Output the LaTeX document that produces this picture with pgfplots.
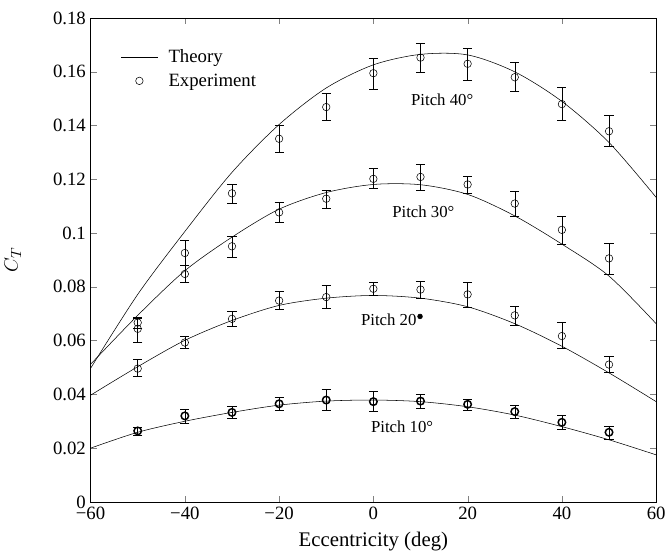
\documentclass[border=0pt]{standalone}
\usepackage{pgfplots}
\pgfplotsset{compat=1.18}
\usepackage{fontspec}
\setmainfont{Liberation Serif}

\begin{document}
\begin{tikzpicture}
  \begin{axis}[
    scale only axis,
    width = 422pt,
    height = 361pt,
    xmin = -60, xmax = 60,
    ymin = 0, ymax = 0.18,
    xtick = {-60,-40,...,60},
    xticklabels = {−60,−40,−20,0,20,40,60},
    ytick = {0,0.02,...,0.18},
    yticklabels = {0,0.02,0.04,0.06,0.08,0.1,0.12,0.14,0.16,0.18},
    tick align = inside,
    major tick length = 4.5pt,
    tick label style = {font=\fontsize{14}{16}\selectfont},
    /pgf/number format/assume math mode=true,
    xlabel = {Eccentricity (deg)},
    ylabel = {$C_T$},
    label style = {font=\fontsize{15.5}{18}\selectfont},
    xlabel style = {yshift=-2.5pt},
    ylabel style = {yshift=17pt},
    legend style = {at={(axis cs:-53.6,0.1695)}, anchor=north west, draw=none, fill=none,
      inner sep=0pt, font=\fontsize{14}{16}\selectfont, row sep=3pt, column sep=6pt},
    legend cell align = left,
    every axis plot/.append style = {black},
  ]
    % theory
    \addplot [thin, smooth,
      legend image code/.code={\draw[thin] (0cm,0cm) -- (0.95cm,0cm);}] coordinates {
      (-60,0.0497) (-50,0.0772) (-40,0.1006) (-30,0.1226) (-20,0.1404) (-10,0.1540)
      (0,0.1626) (10,0.1665) (20,0.1663) (30,0.1600) (40,0.1490) (50,0.1337) (60,0.1133)};
    \addlegendentry{Theory}
    \addplot [only marks, mark=o, mark size=2.8pt, thin,
      legend image code/.code={\draw[thin] plot coordinates {(0.475cm,0cm)};},
      error bars/.cd, y dir=both, y explicit,
      error mark options={rotate=90, mark size=3.4pt, thin}] coordinates {
      (-50,0.0667) += (0,0.0021) -= (0,0.0022)
      (-40,0.0926) += (0,0.0046) -= (0,0.0047)
      (-30,0.1148) += (0,0.0033) -= (0,0.0037)
      (-20,0.1351) += (0,0.0049) -= (0,0.0050)
      (-10,0.1469) += (0,0.0051) -= (0,0.0049)
      (0,0.1595) += (0,0.0055) -= (0,0.0058)
      (10,0.1653) += (0,0.0053) -= (0,0.0056)
      (20,0.1630) += (0,0.0058) -= (0,0.0060)
      (30,0.1580) += (0,0.0054) -= (0,0.0054)
      (40,0.1480) += (0,0.0063) -= (0,0.0061)
      (50,0.1379) += (0,0.0058) -= (0,0.0056)};
    \addlegendentry{Experiment}

    \addplot [thin, smooth, forget plot] coordinates {
      (-60,0.0512) (-50,0.0694) (-40,0.0860) (-30,0.0985) (-20,0.1089) (-10,0.1151)
      (0,0.1181) (10,0.1180) (20,0.1144) (30,0.1064) (40,0.0959) (50,0.0840) (60,0.0663)};
    \addplot [only marks, mark=o, mark size=2.8pt, thin, forget plot,
      error bars/.cd, y dir=both, y explicit,
      error mark options={rotate=90, mark size=3.4pt, thin}] coordinates {
      (-50,0.0644) += (0,0.0040) -= (0,0.0049)
      (-40,0.0848) += (0,0.0031) -= (0,0.0031)
      (-30,0.0951) += (0,0.0037) -= (0,0.0039)
      (-20,0.1077) += (0,0.0037) -= (0,0.0037)
      (-10,0.1128) += (0,0.0032) -= (0,0.0035)
      (0,0.1202) += (0,0.0041) -= (0,0.0036)
      (10,0.1209) += (0,0.0047) -= (0,0.0050)
      (20,0.1181) += (0,0.0031) -= (0,0.0034)
      (30,0.1110) += (0,0.0044) -= (0,0.0048)
      (40,0.1012) += (0,0.0052) -= (0,0.0053)
      (50,0.0906) += (0,0.0056) -= (0,0.0060)};

    \addplot [thin, smooth, forget plot] coordinates {
      (-60,0.0397) (-50,0.0503) (-40,0.0601) (-30,0.0675) (-20,0.0731) (-10,0.0758)
      (0,0.0768) (10,0.0758) (20,0.0726) (30,0.0663) (40,0.0579) (50,0.0480) (60,0.0373)};
    \addplot [only marks, mark=o, mark size=2.8pt, thin, forget plot,
      error bars/.cd, y dir=both, y explicit,
      error mark options={rotate=90, mark size=3.4pt, thin}] coordinates {
      (-50,0.0496) += (0,0.0034) -= (0,0.0030)
      (-40,0.0593) += (0,0.0024) -= (0,0.0023)
      (-30,0.0681) += (0,0.0030) -= (0,0.0028)
      (-20,0.0749) += (0,0.0034) -= (0,0.0033)
      (-10,0.0762) += (0,0.0043) -= (0,0.0041)
      (0,0.0793) += (0,0.0024) -= (0,0.0025)
      (10,0.0790) += (0,0.0031) -= (0,0.0032)
      (20,0.0772) += (0,0.0045) -= (0,0.0049)
      (30,0.0694) += (0,0.0033) -= (0,0.0035)
      (40,0.0617) += (0,0.0052) -= (0,0.0047)
      (50,0.0511) += (0,0.0031) -= (0,0.0030)};

    \addplot [thin, smooth, forget plot] coordinates {
      (-60,0.0200) (-50,0.0259) (-40,0.0300) (-30,0.0333) (-20,0.0360) (-10,0.0375)
      (0,0.0379) (10,0.0373) (20,0.0354) (30,0.0323) (40,0.0280) (50,0.0231) (60,0.0175)};
    \addplot [only marks, mark=o, mark size=2.8pt, line width=1.1pt, forget plot,
      error bars/.cd, y dir=both, y explicit,
      error mark options={rotate=90, mark size=3.4pt, thin},
      error bar style={thin}] coordinates {
      (-50,0.0264) += (0,0.0013) -= (0,0.0015)
      (-40,0.0320) += (0,0.0026) -= (0,0.0027)
      (-30,0.0333) += (0,0.0021) -= (0,0.0022)
      (-20,0.0365) += (0,0.0024) -= (0,0.0025)
      (-10,0.0379) += (0,0.0041) -= (0,0.0039)
      (0,0.0373) += (0,0.0037) -= (0,0.0037)
      (10,0.0375) += (0,0.0026) -= (0,0.0027)
      (20,0.0363) += (0,0.0020) -= (0,0.0023)
      (30,0.0336) += (0,0.0022) -= (0,0.0025)
      (40,0.0296) += (0,0.0025) -= (0,0.0026)
      (50,0.0259) += (0,0.0024) -= (0,0.0025)};

    % stray filled dot of the Pitch 20 label
    \addplot [only marks, mark=*, mark size=1.8pt, forget plot] coordinates {(9.9,0.0690)};

    \node [font=\fontsize{12.5}{15}\selectfont] at (axis cs:14.6,0.1496) {Pitch 40°};
    \node [font=\fontsize{12.5}{15}\selectfont] at (axis cs:10.6,0.1078) {Pitch 30°};
    \node [font=\fontsize{12.5}{15}\selectfont, anchor=base east, inner sep=0pt] at (axis cs:9.2,0.0655) {Pitch 20};
    \node [font=\fontsize{12.5}{15}\selectfont] at (axis cs:6.1,0.0278) {Pitch 10°};
  \end{axis}
  \path ([yshift=13.5pt]current axis.north);
\end{tikzpicture}
\end{document}
